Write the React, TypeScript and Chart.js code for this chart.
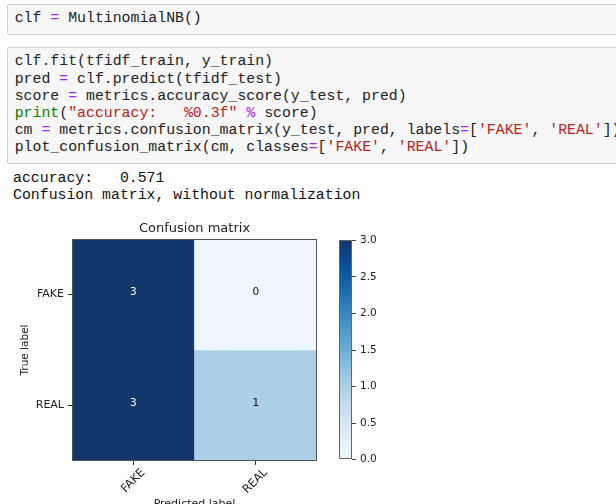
import React, { useEffect, useRef } from "react";
import { Chart, registerables } from "chart.js";

Chart.register(...registerables);

// ---------------- data ----------------
const classes = ["FAKE", "REAL"];
const trueLabels = classes;
const predLabels = classes;
const cmRowFake = [3, 0];
const cmRowReal = [3, 1];
const confusion = [cmRowFake, cmRowReal];
const colorbarTicks = [0, 0.5, 1, 1.5, 2, 2.5, 3];
const chartTitle = "Confusion matrix";
const xTitle = "Predicted label";
const yTitle = "True label";
const accuracyValue = 0.571;

// ---------------- style ----------------
const BLUES = ["#f0f6fd", "#deebf7", "#c6dbef", "#9ecae1", "#6baed6", "#4292c6", "#2171b5", "#08519c", "#12376c"];
const MPL_FONT = "'DejaVu Sans', sans-serif";
const MONO = "'Liberation Mono', 'Courier New', monospace";
const C_TXT = "#222";
const C_OP = "#aa22ff";
const C_STR = "#ba2121";
const C_BI = "#008000";

function hexToRgb(h: string) {
  const n = parseInt(h.slice(1), 16);
  return [(n >> 16) & 255, (n >> 8) & 255, n & 255];
}
function blues(t: number) {
  const tt = Math.max(0, Math.min(1, t)) * (BLUES.length - 1);
  const i = Math.min(Math.floor(tt), BLUES.length - 2);
  const f = tt - i;
  const a = hexToRgb(BLUES[i]);
  const b = hexToRgb(BLUES[i + 1]);
  const c = a.map((v, k) => Math.round(v + (b[k] - v) * f));
  return `rgb(${c[0]},${c[1]},${c[2]})`;
}

const cmMax = Math.max(...confusion.flat());
const cmMin = 0;

type Tok = [string, string];
const cell1: Tok[][] = [[["clf ", C_TXT], ["=", C_OP], [" MultinomialNB()", C_TXT]]];
const cell2: Tok[][] = [
  [["clf.fit(tfidf_train, y_train)", C_TXT]],
  [["pred ", C_TXT], ["=", C_OP], [" clf.predict(tfidf_test)", C_TXT]],
  [["score ", C_TXT], ["=", C_OP], [" metrics.accuracy_score(y_test, pred)", C_TXT]],
  [["print", C_BI], ["(", C_TXT], ['"accuracy:   %0.3f"', C_STR], [" ", C_TXT], ["%", C_OP], [" score)", C_TXT]],
  [["cm ", C_TXT], ["=", C_OP], [" metrics.confusion_matrix(y_test, pred, labels", C_TXT], ["=", C_OP], ["[", C_TXT], ["'FAKE'", C_STR], [", ", C_TXT], ["'REAL'", C_STR], ["])", C_TXT]],
  [["plot_confusion_matrix(cm, classes", C_TXT], ["=", C_OP], ["[", C_TXT], ["'FAKE'", C_STR], [", ", C_TXT], ["'REAL'", C_STR], ["])", C_TXT]],
];
const outputLines = [`accuracy:   ${accuracyValue.toFixed(3)}`, "Confusion matrix, without normalization"];

function CodeLines({ lines, top }: { lines: Tok[][]; top: number }) {
  return (
    <pre
      style={{
        position: "absolute",
        left: 14.7,
        top,
        margin: 0,
        fontFamily: MONO,
        fontSize: "14.85px",
        lineHeight: "17.2px",
        whiteSpace: "pre",
        color: C_TXT,
      }}
    >
      {lines.map((ln, i) => (
        <div key={i}>
          {ln.map(([t, c], j) => (
            <span key={j} style={{ color: c }}>
              {t}
            </span>
          ))}
        </div>
      ))}
    </pre>
  );
}

function MatrixChart() {
  const ref = useRef<HTMLCanvasElement>(null);
  useEffect(() => {
    if (!ref.current) return;
    const cellText = {
      id: "cellText",
      afterDatasetsDraw(chart: any) {
        const { ctx, scales, chartArea } = chart;
        ctx.save();
        ctx.font = `10.5px ${MPL_FONT}`;
        ctx.textAlign = "center";
        ctx.textBaseline = "middle";
        confusion.forEach((row, r) => {
          row.forEach((v, c) => {
            const x = scales.x.getPixelForValue(c);
            const y = scales.y.getPixelForValue(r + 0.5) - 2;
            ctx.fillStyle = v > cmMax / 2 ? "#ffffff" : "#111111";
            ctx.fillText(String(v), x, y);
          });
        });
        ctx.strokeStyle = "#555";
        ctx.lineWidth = 1;
        ctx.strokeRect(
          Math.round(chartArea.left) + 0.5,
          Math.round(chartArea.top) + 0.5,
          Math.round(chartArea.right - chartArea.left) - 1,
          Math.round(chartArea.bottom - chartArea.top) - 1
        );
        ctx.restore();
      },
    };
    const chart = new Chart(ref.current, {
      type: "bar",
      data: {
        labels: predLabels,
        datasets: trueLabels.map((lab, r) => ({
          label: lab,
          data: predLabels.map(() => [r, r + 1]) as any,
          backgroundColor: confusion[r].map((v) => blues((v - cmMin) / (cmMax - cmMin))),
          borderWidth: 0,
          grouped: false,
          categoryPercentage: 1,
          barPercentage: 1,
        })),
      },
      options: {
        animation: false,
        responsive: false,
        devicePixelRatio: 1,
        events: [],
        layout: { padding: { left: 14, right: 13, top: 0, bottom: 0 } },
        plugins: {
          legend: { display: false },
          tooltip: { enabled: false },
          title: {
            display: true,
            text: chartTitle,
            fullSize: false,
            color: C_TXT,
            font: { family: MPL_FONT, size: 13, weight: "normal" },
            padding: { top: 6, bottom: 2.4 },
          },
        },
        scales: {
          x: {
            type: "category",
            offset: true,
            grid: { display: true, drawOnChartArea: false, drawTicks: true, tickLength: 4, tickColor: "#333", offset: false },
            border: { display: false },
            ticks: {
              color: C_TXT,
              font: { family: MPL_FONT, size: 11.5 },
              maxRotation: 45,
              minRotation: 45,
              padding: 1,
              labelOffset: 10,
            },
            title: {
              display: true,
              text: xTitle,
              color: C_TXT,
              font: { family: MPL_FONT, size: 11 },
              padding: { top: 0, bottom: 4 },
            },
            afterFit: (s: any) => {
              s.height = 54;
            },
          },
          y: {
            type: "linear",
            min: 0,
            max: trueLabels.length,
            reverse: true,
            grid: { display: true, drawOnChartArea: false, drawTicks: true, tickLength: 4, tickColor: "#333" },
            border: { display: false },
            afterBuildTicks: (s: any) => {
              s.ticks = trueLabels.map((_, i) => ({ value: i + 0.5 }));
            },
            ticks: {
              color: C_TXT,
              font: { family: MPL_FONT, size: 11 },
              padding: 4,
              callback: (v: any) => trueLabels[Math.floor(Number(v))] ?? "",
            },
            title: {
              display: true,
              text: yTitle,
              color: C_TXT,
              font: { family: MPL_FONT, size: 10.5 },
              padding: { top: 5, bottom: 0 },
            },
            afterFit: (s: any) => {
              s.width = 58;
            },
          },
        },
      },
      plugins: [cellText],
    } as any);
    return () => chart.destroy();
  }, []);
  return (
    <canvas
      ref={ref}
      width={330}
      height={300}
      style={{ position: "absolute", left: 0, top: 215, width: 330, height: 300 }}
    />
  );
}

function ColorbarChart() {
  const ref = useRef<HTMLCanvasElement>(null);
  useEffect(() => {
    if (!ref.current) return;
    const outline = {
      id: "cbOutline",
      afterDatasetsDraw(chart: any) {
        const { ctx, chartArea } = chart;
        ctx.save();
        ctx.strokeStyle = "#666";
        ctx.lineWidth = 1;
        ctx.strokeRect(
          Math.round(chartArea.left) + 0.5,
          Math.round(chartArea.top) + 0.5,
          Math.round(chartArea.right - chartArea.left) - 1,
          Math.round(chartArea.bottom - chartArea.top) - 1
        );
        ctx.restore();
      },
    };
    const chart = new Chart(ref.current, {
      type: "bar",
      data: {
        labels: [""],
        datasets: [
          {
            data: [[cmMin, cmMax]] as any,
            borderWidth: 0,
            categoryPercentage: 1,
            barPercentage: 1,
            backgroundColor: (c: any) => {
              const area = c.chart.chartArea;
              if (!area) return blues(0.5);
              const g = c.chart.ctx.createLinearGradient(0, area.bottom, 0, area.top);
              BLUES.forEach((col, i) => g.addColorStop(i / (BLUES.length - 1), col));
              return g;
            },
          },
        ],
      },
      options: {
        animation: false,
        responsive: false,
        devicePixelRatio: 1,
        events: [],
        layout: { padding: { left: 9, right: 0, top: 10, bottom: 10 } },
        plugins: { legend: { display: false }, tooltip: { enabled: false }, title: { display: false } },
        scales: {
          x: { display: false },
          y: {
            position: "right",
            min: cmMin,
            max: cmMax,
            grid: { display: true, drawOnChartArea: false, drawTicks: true, tickLength: 4, tickColor: "#444" },
            border: { display: false },
            afterBuildTicks: (s: any) => {
              s.ticks = colorbarTicks.map((v) => ({ value: v }));
            },
            ticks: {
              color: C_TXT,
              font: { family: MPL_FONT, size: 10.5 },
              padding: 4,
              callback: (v: any) => Number(v).toFixed(1),
            },
            afterFit: (s: any) => {
              s.width = 40;
            },
          },
        },
      },
      plugins: [outline],
    } as any);
    return () => chart.destroy();
  }, []);
  return (
    <canvas
      ref={ref}
      width={62}
      height={240}
      style={{ position: "absolute", left: 330, top: 230, width: 62, height: 240 }}
    />
  );
}

export default function App() {
  const cellBox: React.CSSProperties = {
    position: "absolute",
    left: 7,
    width: 640,
    background: "#f7f7f7",
    border: "1px solid #cfcfcf",
    borderRadius: 2,
    boxSizing: "border-box",
  };
  return (
    <div
      style={{
        position: "fixed",
        left: 0,
        top: 0,
        width: 616,
        height: 504,
        overflow: "hidden",
        background: "#ffffff",
      }}
    >
      <div style={{ ...cellBox, top: 4, height: 31 }} />
      <div style={{ ...cellBox, top: 47, height: 117 }} />
      <CodeLines lines={cell1} top={10.4} />
      <CodeLines lines={cell2} top={53.4} />
      <pre
        style={{
          position: "absolute",
          left: 13,
          top: 170.4,
          margin: 0,
          fontFamily: MONO,
          fontSize: "14.85px",
          lineHeight: "17px",
          color: "#111",
          whiteSpace: "pre",
        }}
      >
        {outputLines.map((l, i) => (
          <div key={i}>{l}</div>
        ))}
      </pre>
      <MatrixChart />
      <ColorbarChart />
    </div>
  );
}
